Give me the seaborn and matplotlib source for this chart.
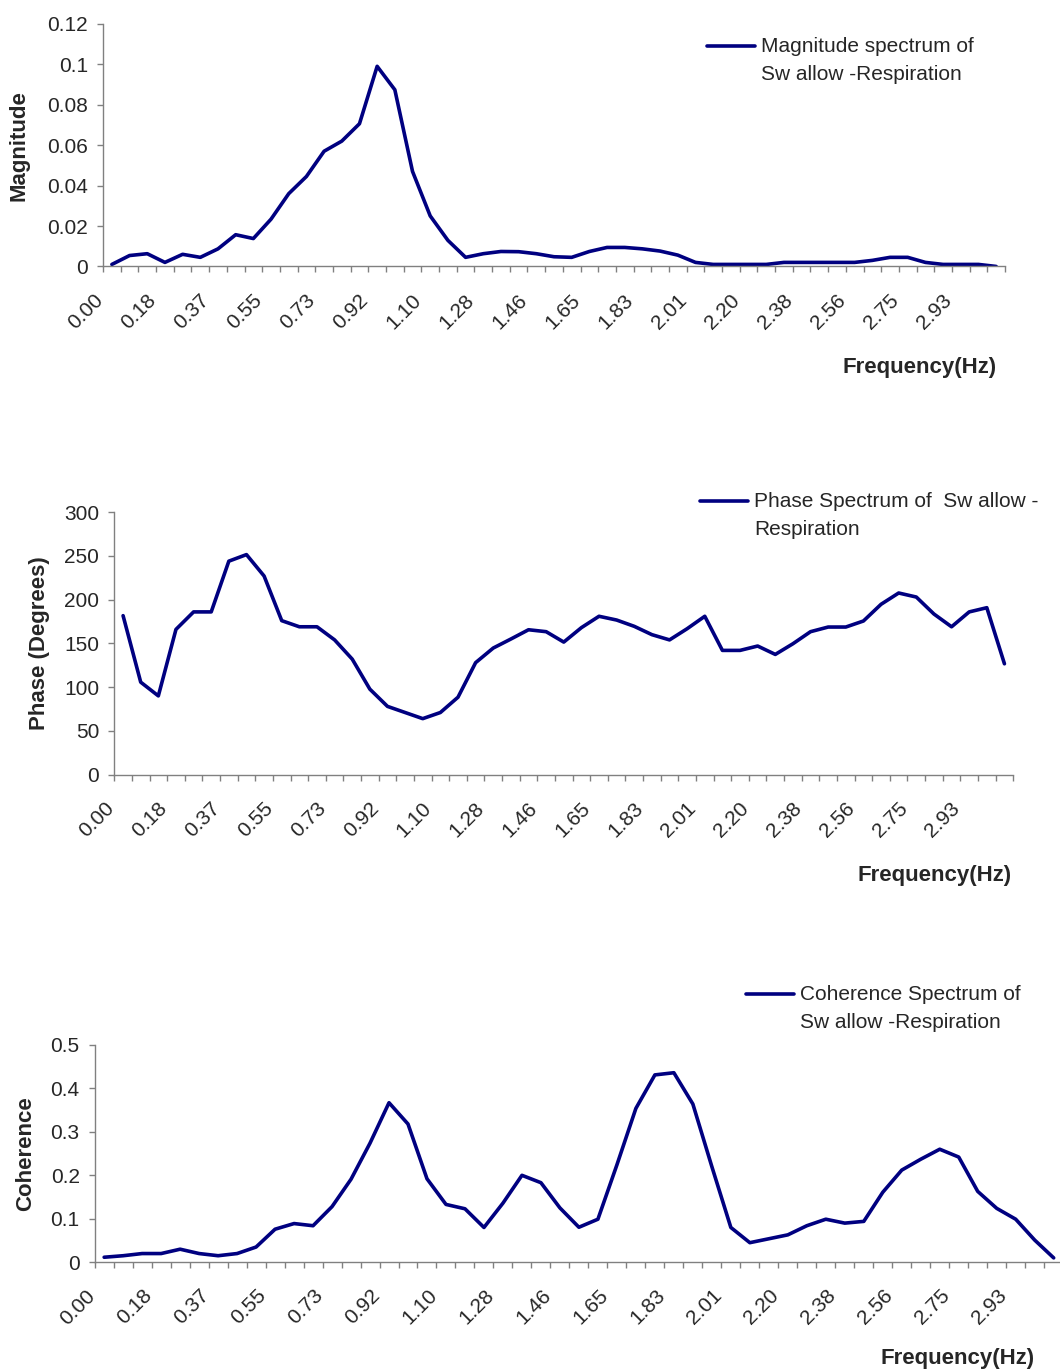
import numpy as np
import matplotlib
matplotlib.use("Agg")
import matplotlib.pyplot as plt
import matplotlib.ticker as ticker
from matplotlib.lines import Line2D
from matplotlib.legend_handler import HandlerLine2D
from matplotlib.transforms import ScaledTranslation
import seaborn as sns

# frequency labels, every third bin (bin width ~0.061 Hz)
tick_labels = ["0.00", "0.18", "0.37", "0.55", "0.73", "0.92", "1.10", "1.28", "1.46",
               "1.65", "1.83", "2.01", "2.20", "2.38", "2.56", "2.75", "2.93"]

magnitude = [0.001, 0.0054, 0.0063, 0.002, 0.006, 0.0045, 0.0087, 0.0157, 0.0138, 0.0234,
             0.036, 0.0445, 0.057, 0.062, 0.0706, 0.099, 0.0874, 0.047, 0.025, 0.0129,
             0.0045, 0.0063, 0.0074, 0.0073, 0.0063, 0.0048, 0.0045, 0.0074, 0.0094, 0.0094,
             0.0087, 0.0076, 0.0056, 0.002, 0.001, 0.001, 0.001, 0.001, 0.002, 0.002,
             0.002, 0.002, 0.002, 0.003, 0.0045, 0.0045, 0.002, 0.001, 0.001, 0.001, 0.0]

phase = [181.7, 105.7, 90, 166, 186, 186, 244, 251.5, 227, 176,
         169, 169, 154, 132, 97.7, 78, 71, 64, 71, 88.5,
         128, 144.7, 155, 165.6, 163.4, 151.5, 168, 181, 176.7, 169.5,
         160, 154, 166.8, 181, 142, 142, 147, 137.4, 149.6, 163.4,
         168.7, 168.7, 175.6, 194.7, 207.6, 203, 183.6, 169, 186, 190.8, 126.7]

coherence = [0.0115, 0.015, 0.020, 0.020, 0.030, 0.020, 0.015, 0.020, 0.035, 0.076,
             0.089, 0.084, 0.128, 0.191, 0.274, 0.367, 0.318, 0.192, 0.133, 0.123,
             0.080, 0.136, 0.200, 0.183, 0.125, 0.0805, 0.099, 0.224, 0.354, 0.431,
             0.436, 0.364, 0.220, 0.080, 0.045, 0.054, 0.063, 0.084, 0.099, 0.090,
             0.094, 0.161, 0.212, 0.237, 0.260, 0.242, 0.163, 0.124, 0.099, 0.051, 0.010]

navy = "#000080"
axis_grey = "#808080"


class FirstLineHandler(HandlerLine2D):
    # excel puts the key beside the first line of a wrapped entry
    def create_artists(self, legend, orig_handle, xdescent, ydescent, width, height, fontsize, trans):
        arts = super().create_artists(legend, orig_handle, xdescent, ydescent, width, height, fontsize, trans)
        for a in arts:
            a.set_ydata(np.asarray(a.get_ydata()) + 0.7 * fontsize)
        return arts


sns.set_theme(style="ticks")
plt.rcParams["font.family"] = ["Liberation Sans", "DejaVu Sans"]

fig = plt.figure(figsize=(10.6, 13.72), dpi=100)


def draw_panel(rect, values, ylabel, ylim, ystep, key_label, key_anchor, ylab_x, xlab_xy):
    ax = fig.add_axes(rect)
    x = np.arange(len(values))
    sns.lineplot(x=x, y=values, ax=ax, color=navy, linewidth=2.6, label=key_label)

    ax.set_xlim(-0.5, len(values) - 0.5)
    ax.set_ylim(*ylim)
    ax.yaxis.set_major_locator(ticker.MultipleLocator(ystep))
    ax.yaxis.set_major_formatter(ticker.FuncFormatter(lambda v, p: f"{v:g}"))

    ax.set_xticks(x[::3])
    ax.set_xticklabels(tick_labels, rotation=45, ha="right", va="center", rotation_mode="anchor")
    ax.set_xticks(np.arange(-0.5, len(values)), minor=True)
    ax.tick_params(axis="x", which="major", length=0, pad=22, labelsize=15)
    ax.tick_params(axis="x", which="minor", length=4.3, width=1, color=axis_grey, direction="out")
    ax.tick_params(axis="y", length=4.3, width=1, color=axis_grey, pad=6.5, labelsize=15)
    for lab in ax.get_xticklabels():
        lab.set_transform(lab.get_transform() + ScaledTranslation(-0.12, 0, fig.dpi_scale_trans))

    sns.despine(ax=ax)
    for s in ["left", "bottom"]:
        ax.spines[s].set_color(axis_grey)
        ax.spines[s].set_linewidth(1)

    ax.set_ylabel(ylabel, fontsize=16, fontweight="bold")
    ax.yaxis.set_label_coords(ylab_x, 0.5)
    ax.set_xlabel("Frequency(Hz)", fontsize=16, fontweight="bold", ha="right")
    ax.xaxis.set_label_coords(*xlab_xy)

    leg = ax.legend(loc="upper left", bbox_to_anchor=key_anchor, bbox_transform=fig.transFigure,
                    frameon=False, fontsize=15, handlelength=2.3, handletextpad=0.3,
                    borderpad=0, borderaxespad=0, handler_map={Line2D: FirstLineHandler()})
    for t in leg.get_texts():
        t.set_linespacing(1.6)
    return ax


draw_panel([0.0972, 0.8058, 0.8509, 0.1768], magnitude, "Magnitude", (0, 0.12), 0.02,
           "Magnitude spectrum of\nSw allow -Respiration", (0.667, 0.9730),
           -0.0817, (0.991, -0.373))

draw_panel([0.1078, 0.4354, 0.8481, 0.1913], phase, "Phase (Degrees)", (0, 300), 50,
           "Phase Spectrum of  Sw allow -\nRespiration", (0.6604, 0.6414),
           -0.0715, (0.9986, -0.344))

draw_panel([0.0893, 0.0800, 0.9137, 0.1584], coherence, "Coherence", (0, 0.5), 0.1,
           "Coherence Spectrum of\nSw allow -Respiration", (0.7038, 0.2821),
           -0.060, (0.9709, -0.394))

fig.savefig("out.png", dpi=100)
